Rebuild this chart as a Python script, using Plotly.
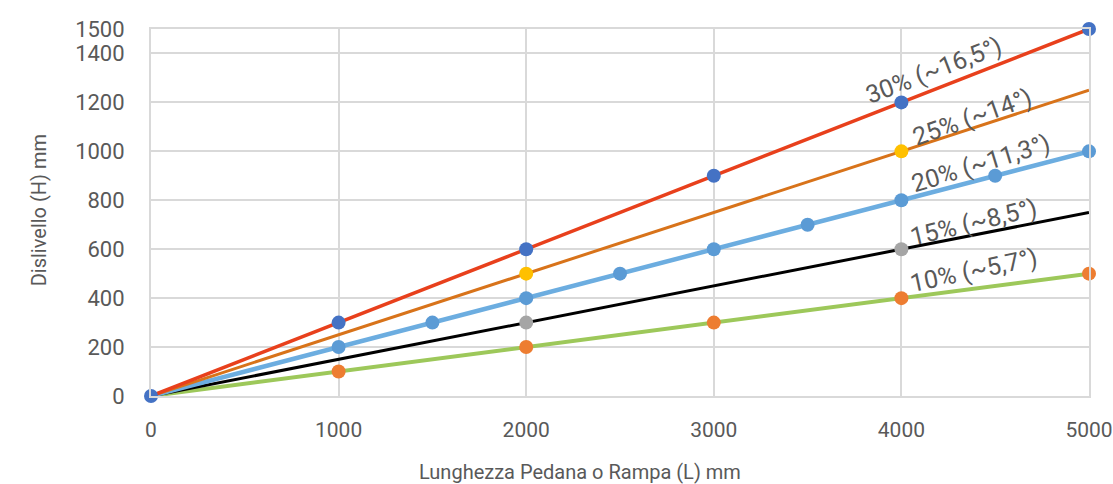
import plotly.graph_objects as go

# ---- data ----
L30 = [0, 1000, 2000, 3000, 4000, 5000]
H30 = [0, 300, 600, 900, 1200, 1500]
M30_L = [0, 1000, 2000, 3000, 4000, 5000]
M30_H = [0, 300, 600, 900, 1200, 1500]

L25 = [0, 2000, 4000, 5000]
H25 = [0, 500, 1000, 1250]
M25_L = [2000, 4000]
M25_H = [500, 1000]

L20 = [0, 1000, 1500, 2000, 2500, 3000, 3500, 4000, 4500, 5000]
H20 = [0, 200, 300, 400, 500, 600, 700, 800, 900, 1000]
M20_L = [1000, 1500, 2000, 2500, 3000, 3500, 4000, 4500, 5000]
M20_H = [200, 300, 400, 500, 600, 700, 800, 900, 1000]

L15 = [0, 2000, 4000, 5000]
H15 = [0, 300, 600, 750]
M15_L = [2000, 4000]
M15_H = [300, 600]

L10 = [0, 1000, 2000, 3000, 4000, 5000]
H10 = [0, 100, 200, 300, 400, 500]
M10_L = [1000, 2000, 3000, 4000, 5000]
M10_H = [100, 200, 300, 400, 500]

labels = ["30% (~16,5°)", "25% (~14°)", "20% (~11,3°)", "15% (~8,5°)", "10% (~5,7°)"]
x_ticks = [0, 1000, 2000, 3000, 4000, 5000]
y_ticks = [0, 200, 400, 600, 800, 1000, 1200, 1400, 1500]

x_title = "Lunghezza Pedana o Rampa (L) mm"
y_title = "Dislivello (H) mm"

# ---- styles ----
FONT = "Roboto, sans-serif"
TXT = "#595959"
GRID = "#d9d9d9"

lines = [
    (L10, H10, "#9dc85a", 4),
    (L15, H15, "#000000", 3),
    (L20, H20, "#6cade0", 4.5),
    (L25, H25, "#d8731a", 3),
    (L30, H30, "#e8401c", 3.5),
]
marks = [
    (M10_L, M10_H, "#ed7d31"),
    (M15_L, M15_H, "#a5a5a5"),
    (M20_L, M20_H, "#5b9bd5"),
    (M25_L, M25_H, "#ffc000"),
    (M30_L, M30_H, "#4472c4"),
]

fig = go.Figure()
for xs, ys, c, w in lines:
    fig.add_trace(go.Scatter(x=xs, y=ys, mode="lines", line=dict(color=c, width=w),
                             cliponaxis=False, showlegend=False, hoverinfo="x+y"))
for xs, ys, c in marks:
    fig.add_trace(go.Scatter(x=xs, y=ys, mode="markers", marker=dict(color=c, size=14),
                             cliponaxis=False, showlegend=False, hoverinfo="x+y"))

# label positions (layout, in data units) and rotation
lab_pos = [(4172, 1332, -21), (4374, 1140, -19.5), (4422, 952, -17), (4384, 711, -13.5), (4384, 515, -12)]
for text, (ax_, ay_, ang) in zip(labels, lab_pos):
    fig.add_annotation(x=ax_, y=ay_, xref="x", yref="y", text=text, showarrow=False,
                       textangle=ang, font=dict(family=FONT, size=25, color=TXT))

fig.add_annotation(x=0.457, y=-0.208, xref="paper", yref="paper", text=x_title, showarrow=False,
                   xanchor="center", yanchor="middle", font=dict(family=FONT, size=20, color=TXT))
fig.add_annotation(x=-0.119, y=0.507, xref="paper", yref="paper", text=y_title, showarrow=False,
                   textangle=-90, xanchor="center", yanchor="middle",
                   font=dict(family=FONT, size=20, color=TXT))

fig.update_layout(
    width=1113, height=484,
    margin=dict(l=151, r=24, t=29, b=88, autoexpand=False),
    paper_bgcolor="white", plot_bgcolor="white",
    font=dict(family=FONT, size=21, color=TXT),
    xaxis=dict(range=[0, 5000], tickvals=x_ticks, showgrid=True, gridcolor=GRID, gridwidth=2,
               zeroline=False, showline=True, mirror=True, linecolor=GRID, linewidth=2,
               ticks="", ticklabelstandoff=14, ticklabeloverflow="allow", automargin=False,
               tickfont=dict(family=FONT, size=21, color=TXT)),
    yaxis=dict(range=[0, 1500], tickvals=y_ticks, showgrid=True, gridcolor=GRID, gridwidth=2,
               zeroline=False, showline=True, mirror=True, linecolor=GRID, linewidth=2,
               ticks="", ticklabelstandoff=20, ticklabeloverflow="allow", automargin=False,
               tickfont=dict(family=FONT, size=22, color=TXT)),
)

fig.write_html("out.html", config={"displayModeBar": False},
               post_script="document.body.style.margin='0px';document.body.style.overflow='hidden';")
